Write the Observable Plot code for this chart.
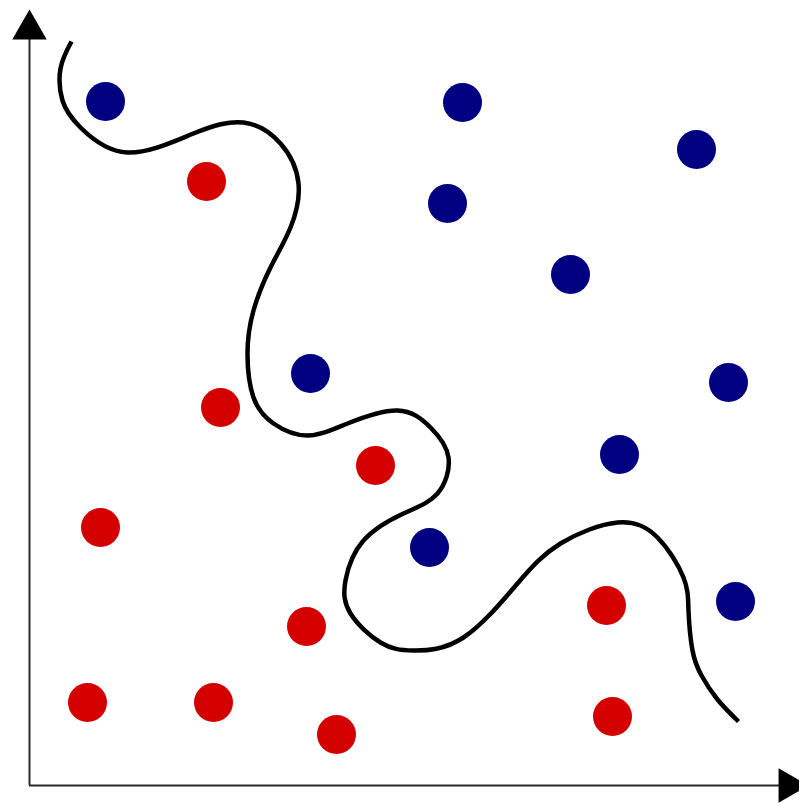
<!DOCTYPE html>
<html>
<head>
<meta charset="utf-8">
<script src="https://cdn.jsdelivr.net/npm/d3@7"></script>
<script src="https://cdn.jsdelivr.net/npm/@observablehq/plot@0.6"></script>
<style>
  html, body { margin: 0; padding: 0; background: #fff; overflow: hidden; }
</style>
</head>
<body>
<div id="chart"></div>
<script>
// Class A (blue) points: [x, y]
const blueX = [76, 433, 667, 418, 541, 281, 699, 590, 400, 706];
const blueY = [684, 683, 636, 582, 511, 412, 403, 331, 238, 184];
// Class B (red) points
const redX = [177, 191, 346, 71, 577, 277, 58, 184, 307, 583];
const redY = [604, 378, 320, 258, 180, 159, 83, 83, 51, 69];
// Decision boundary curve
const curveX = [42, 31, 33, 51, 98, 164, 214, 251, 269, 261, 241, 224, 218, 224, 244, 278, 318, 368, 401, 419, 408, 374, 334, 316, 321, 351, 384, 434, 488, 531, 588, 628, 654, 659, 663, 672, 688, 709];
const curveY = [744, 717, 685, 658, 633, 652, 663, 642, 602, 558, 518, 475, 432, 388, 362, 350, 362, 375, 358, 328, 292, 272, 245, 205, 172, 143, 135, 148, 202, 242, 263, 248, 208, 175, 135, 110, 86, 64];

const blue = blueX.map((x, i) => ({x, y: blueY[i]}));
const red = redX.map((x, i) => ({x, y: redY[i]}));
const curve = curveX.map((x, i) => ({x, y: curveY[i]}));

const W = 799, H = 803;
const chart = Plot.plot({
  width: W,
  height: H,
  marginLeft: 29,
  marginRight: 0,
  marginTop: 0,
  marginBottom: 18,
  x: {domain: [0, 770], axis: null},
  y: {domain: [0, 785], axis: null},
  style: {background: "#fff", overflow: "hidden"},
  marks: [
    Plot.ruleX([0], {y1: 0, y2: 746, stroke: "#2a2a2a", strokeWidth: 2}),
    Plot.ruleY([0], {x1: 0, x2: 750, stroke: "#2a2a2a", strokeWidth: 2}),
    Plot.dot([{x: 0, y: 756}], {x: "x", y: "y", symbol: "triangle", r: 12.8, fill: "#000", stroke: null}),
    Plot.dot([{x: 759, y: 0}], {x: "x", y: "y", symbol: "triangle", r: 12.8, rotate: 90, fill: "#000", stroke: null}),
    Plot.dot(blue, {x: "x", y: "y", r: 19.5, fill: "#000080", stroke: null}),
    Plot.dot(red, {x: "x", y: "y", r: 19.5, fill: "#d40000", stroke: null}),
    Plot.line(curve, {x: "x", y: "y", curve: "natural", stroke: "#000", strokeWidth: 4.5, strokeLinecap: "butt", strokeLinejoin: "round"})
  ]
});
chart.querySelectorAll("path").forEach(p => { if (p.getAttribute("stroke") === "#000" || p.parentNode.getAttribute("stroke") === "#000") p.setAttribute("stroke-width", "4.5"); });
document.getElementById("chart").appendChild(chart);
</script>
</body>
</html>
